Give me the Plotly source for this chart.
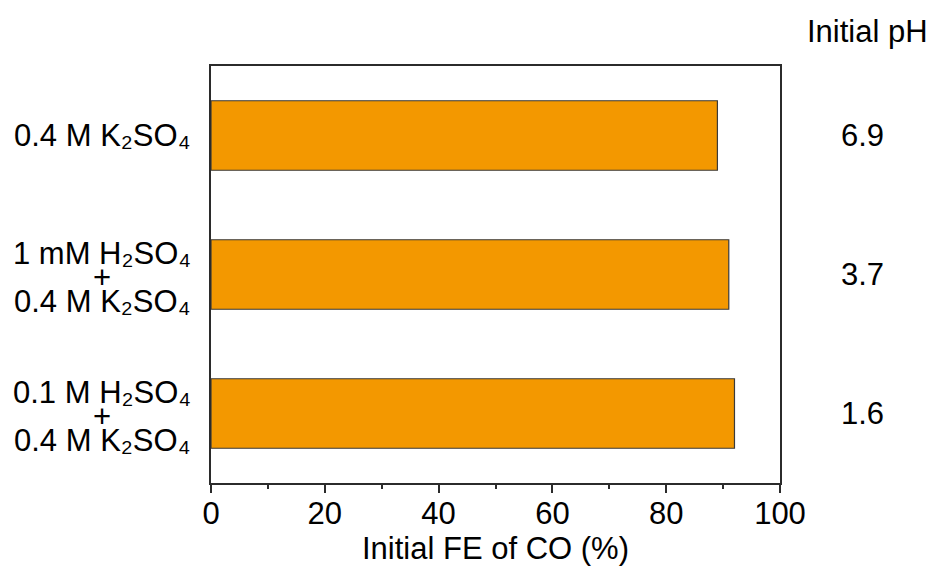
import plotly.graph_objects as go

# Electrolyte conditions (top to bottom), split into display lines
electrolytes = [
    ["0.4 M K₂SO₄"],
    ["1 mM H₂SO₄", "+", "0.4 M K₂SO₄"],
    ["0.1 M H₂SO₄", "+", "0.4 M K₂SO₄"],
]
fe_co = [89.0, 91.0, 92.0]          # initial Faradaic efficiency of CO (%)
initial_ph = ["6.9", "3.7", "1.6"]  # initial electrolyte pH
x_ticks = [0, 20, 40, 60, 80, 100]

FONT = "Liberation Sans, Arial, sans-serif"
FS = 31
BAR_COLOR = "#F39800"
LINE_COLOR = "#2b2b2b"

idx = list(range(len(fe_co)))

fig = go.Figure()
fig.add_trace(go.Bar(
    x=fe_co,
    y=idx,
    orientation="h",
    width=0.5,
    marker=dict(color=BAR_COLOR, line=dict(color="#3a3a3a", width=1.2)),
    hoverinfo="skip",
))

annotations = []
# Category labels, lines stacked tightly and centred
for i, lines in enumerate(electrolytes):
    shifts = [0] if len(lines) == 1 else [21, -3, -27]
    for line, sh in zip(lines, shifts):
        annotations.append(dict(
            x=-0.1916, xref="paper", y=i, yref="y",
            text=line, showarrow=False, xanchor="center", yanchor="middle",
            yshift=sh, font=dict(size=FS, color="black", family=FONT),
        ))

# pH column on the right
for i, ph in enumerate(initial_ph):
    annotations.append(dict(
        x=1.145, xref="paper", y=i, yref="y",
        text=ph, showarrow=False, xanchor="center", yanchor="middle",
        font=dict(size=FS, color="black", family=FONT),
    ))
annotations.append(dict(
    x=1.154, xref="paper", y=1.083, yref="paper",
    text="Initial pH", showarrow=False, xanchor="center", yanchor="middle",
    font=dict(size=FS, color="black", family=FONT),
))

fig.update_layout(
    width=931, height=571,
    margin=dict(l=211, r=151, t=66, b=88),
    paper_bgcolor="white", plot_bgcolor="white",
    showlegend=False,
    annotations=annotations,
    font=dict(family=FONT, color="black"),
)
fig.update_xaxes(
    range=[0, 100],
    tickvals=x_ticks,
    ticktext=[str(v) for v in x_ticks],
    ticks="outside", ticklen=8, tickwidth=1.5, tickcolor=LINE_COLOR,
    minor=dict(dtick=10, tick0=0, ticks="outside", ticklen=4, tickwidth=1.5, tickcolor=LINE_COLOR),
    showline=True, linecolor=LINE_COLOR, linewidth=1.5, mirror=True,
    showgrid=False, zeroline=False,
    ticklabelstandoff=-6,
    tickfont=dict(size=FS, family=FONT, color="black"),
    title=dict(text="Initial FE of CO (%)", font=dict(size=FS, family=FONT, color="black"), standoff=4),
)
fig.update_yaxes(
    range=[2.5, -0.5],
    showticklabels=False, ticks="",
    showline=True, linecolor=LINE_COLOR, linewidth=1.5, mirror=True,
    showgrid=False, zeroline=False,
)

fig.write_html("out.html")
